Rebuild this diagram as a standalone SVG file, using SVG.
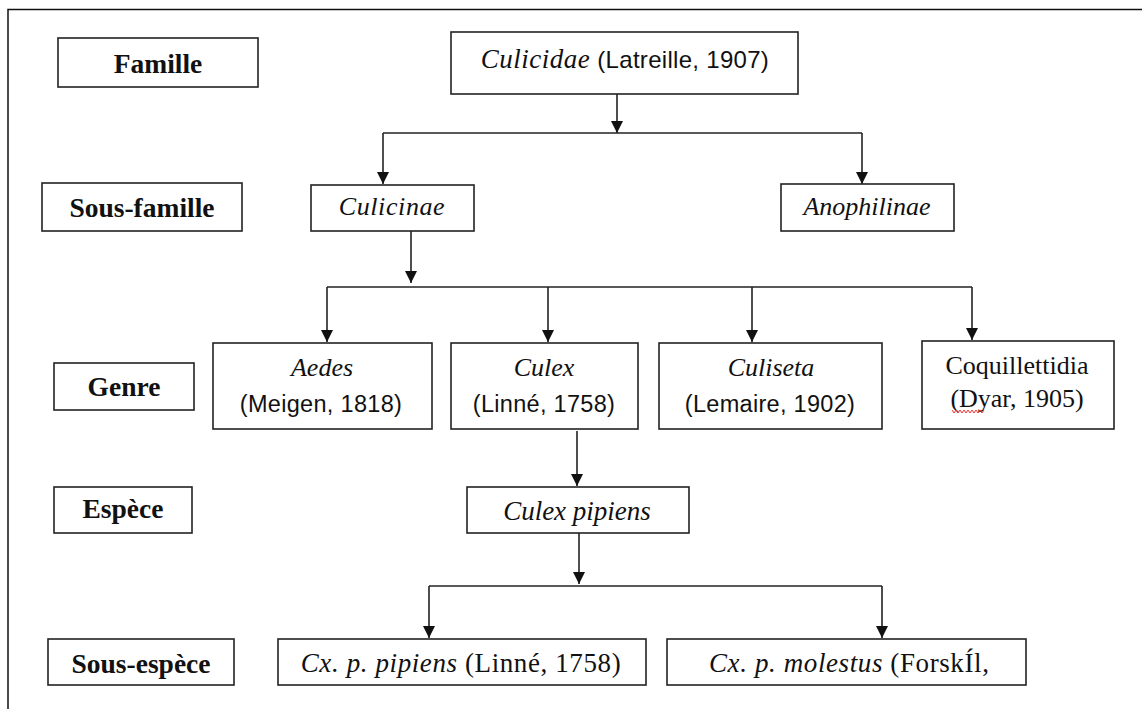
<svg xmlns="http://www.w3.org/2000/svg" width="1142" height="709" viewBox="0 0 1142 709">
<style>
.box{fill:#fff;stroke:#222;stroke-width:1.6}
.lbl{font-family:"Liberation Serif","Times New Roman",serif;font-weight:bold;font-size:27.5px;fill:#111;text-anchor:middle}
.it{font-family:"Liberation Serif","Times New Roman",serif;font-style:italic;font-size:26px;fill:#111}
.sans{font-family:"Liberation Sans",Arial,sans-serif;font-size:23.5px;fill:#111;font-style:normal;letter-spacing:0.3px}
.ser{font-family:"Liberation Serif","Times New Roman",serif;font-size:26px;fill:#111;font-style:normal}
.big{font-size:27px;letter-spacing:0.6px}
.mid{text-anchor:middle}
.con{fill:none;stroke:#222;stroke-width:1.6}
</style>
<defs>
<marker id="ah" markerUnits="userSpaceOnUse" markerWidth="13" markerHeight="13" refX="12" refY="6" orient="auto">
<path d="M0,0 L12,6 L0,12 z" fill="#111"/>
</marker>
</defs>
<rect width="1142" height="709" fill="#fff"/>
<path d="M8,709 V9.5 H1142" fill="none" stroke="#111" stroke-width="1.5"/>

<g id="connectors">
<line class="con" x1="617" y1="94" x2="617" y2="133" marker-end="url(#ah)"/>
<path class="con" d="M383,133 H862"/>
<line class="con" x1="383" y1="133" x2="383" y2="184" marker-end="url(#ah)"/>
<line class="con" x1="862" y1="133" x2="862" y2="184" marker-end="url(#ah)"/>
<line class="con" x1="411" y1="231" x2="411" y2="283" marker-end="url(#ah)"/>
<path class="con" d="M327,287 H972"/>
<line class="con" x1="327" y1="287" x2="327" y2="342" marker-end="url(#ah)"/>
<line class="con" x1="548" y1="287" x2="548" y2="342" marker-end="url(#ah)"/>
<line class="con" x1="752" y1="287" x2="752" y2="342" marker-end="url(#ah)"/>
<line class="con" x1="972" y1="287" x2="972" y2="340" marker-end="url(#ah)"/>
<line class="con" x1="577" y1="431" x2="577" y2="486" marker-end="url(#ah)"/>
<line class="con" x1="579" y1="533" x2="579" y2="584" marker-end="url(#ah)"/>
<path class="con" d="M429,586 H882"/>
<line class="con" x1="429" y1="586" x2="429" y2="638" marker-end="url(#ah)"/>
<line class="con" x1="882" y1="586" x2="882" y2="638" marker-end="url(#ah)"/>
</g>

<g id="famille-label"><rect class="box" x="58" y="38" width="200" height="49"/><text class="lbl" x="158" y="73">Famille</text></g>
<g id="sousfamille-label"><rect class="box" x="42" y="183" width="200" height="48"/><text class="lbl" x="142" y="217">Sous-famille</text></g>
<g id="genre-label"><rect class="box" x="54" y="363" width="140" height="47"/><text class="lbl" x="124" y="396">Genre</text></g>
<g id="espece-label"><rect class="box" x="54" y="487" width="138" height="46"/><text class="lbl" x="123" y="518">Espèce</text></g>
<g id="sousespece-label"><rect class="box" x="48" y="639" width="186" height="46"/><text class="lbl" x="141" y="673">Sous-espèce</text></g>

<g id="culicidae"><rect class="box" x="451" y="32" width="347" height="62"/>
<text class="it mid" x="625" y="68" style="font-size:27px;letter-spacing:0.5px">Culicidae<tspan class="sans" style="font-size:24px"> (Latreille, 1907)</tspan></text></g>
<g id="culicinae"><rect class="box" x="311" y="185" width="163" height="46"/><text class="it mid" x="392" y="215" style="letter-spacing:0.6px">Culicinae</text></g>
<g id="anophilinae"><rect class="box" x="781" y="184" width="173" height="47"/><text class="it mid" x="867" y="215">Anophilinae</text></g>

<g id="aedes"><rect class="box" x="213" y="343" width="219" height="86"/>
<text class="it mid" x="322" y="376">Aedes</text><text class="sans mid" x="321" y="412">(Meigen, 1818)</text></g>
<g id="culex"><rect class="box" x="451" y="343" width="187" height="86"/>
<text class="it mid" x="544" y="376">Culex</text><text class="sans mid" x="544" y="412">(Linné, 1758)</text></g>
<g id="culiseta"><rect class="box" x="659" y="343" width="223" height="86"/>
<text class="it mid" x="771" y="376">Culiseta</text><text class="sans mid" x="770" y="412">(Lemaire, 1902)</text></g>
<g id="coquillettidia"><rect class="box" x="922" y="341" width="192" height="88"/>
<text class="ser mid" x="1017" y="374">Coquillettidia</text><text class="ser mid" x="1017" y="407">(Dyar, 1905)</text>
<polyline points="952,410 954,413 956,410 958,413 960,410 962,413 964,410 966,413 968,410 970,413 972,410 974,413 976,410 978,413 980,410 982,413 984,410" fill="none" stroke="#e33" stroke-width="1"/></g>

<g id="culex-pipiens"><rect class="box" x="467" y="487" width="222" height="46"/><text class="it mid" x="577" y="520" style="font-size:27px">Culex pipiens</text></g>

<g id="cx-p-pipiens"><rect class="box" x="278" y="639" width="368" height="46"/>
<text class="it mid big" x="461" y="672">Cx. p. pipiens<tspan class="ser" style="font-size:27px"> (Linné, 1758)</tspan></text></g>
<g id="cx-p-molestus"><rect class="box" x="667" y="639" width="359" height="46"/>
<text class="it big" x="709" y="672">Cx. p. molestus<tspan class="ser" style="font-size:27px"> (ForskÍl,</tspan></text></g>
</svg>
